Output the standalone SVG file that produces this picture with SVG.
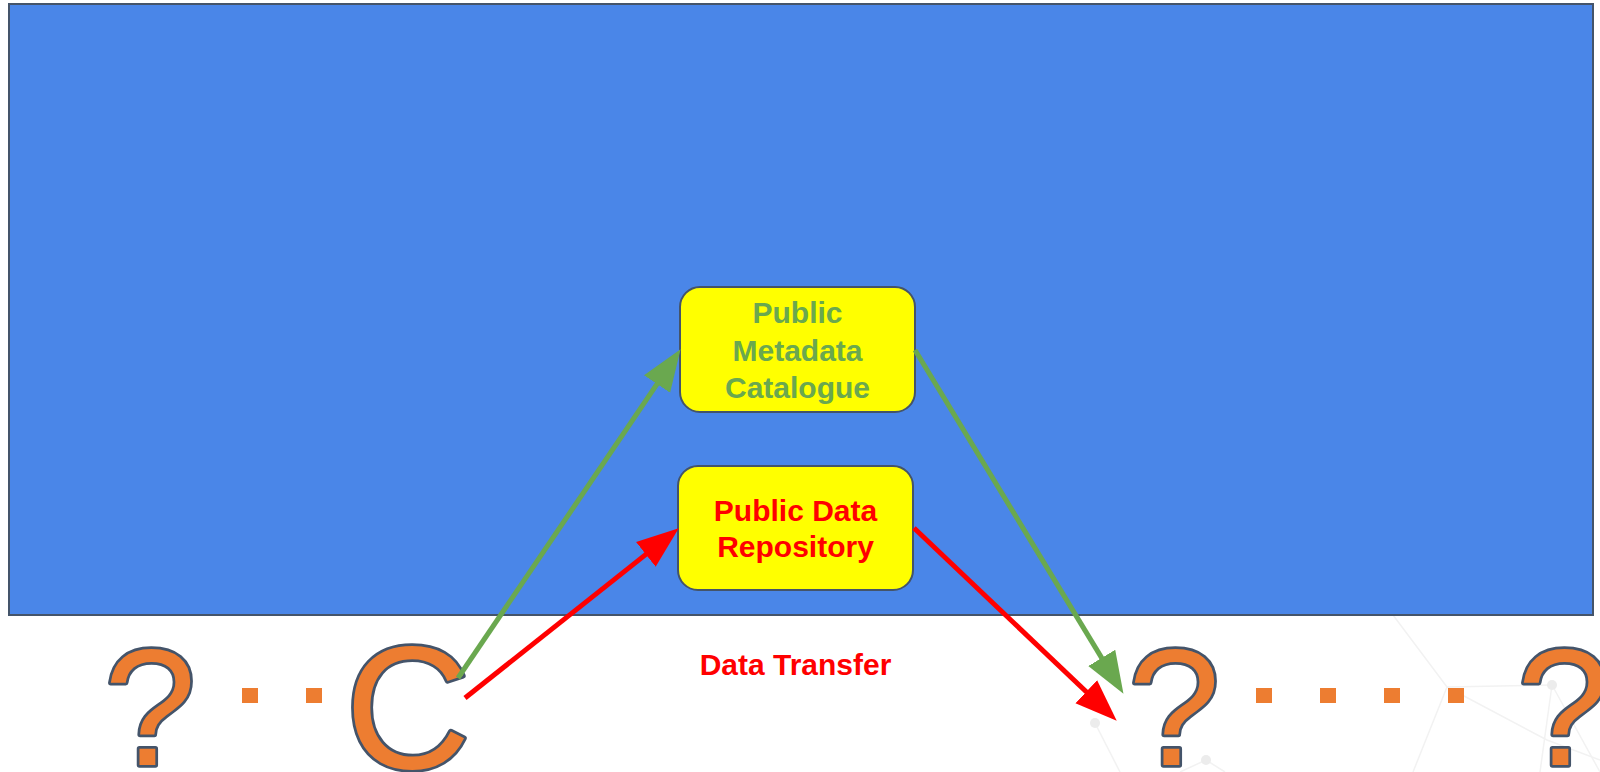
<svg xmlns="http://www.w3.org/2000/svg" width="1600" height="772" viewBox="0 0 1600 772">
<style>
.glyph{font-family:"Liberation Sans",Arial,sans-serif;fill:#ed7d31;stroke:#44546a;stroke-width:5.5;paint-order:stroke;stroke-linejoin:round}
.box{fill:#ffff00;stroke:#44546a;stroke-width:2}
.lbl{font-family:"Liberation Sans",Arial,sans-serif;font-weight:bold;font-size:30px;text-anchor:middle}
.net{stroke:#f2f2f2;stroke-width:1.5;fill:none}
.netdot{fill:#ececec}
.dots{stroke:#ed7d31;stroke-width:15;stroke-dasharray:16 48;fill:none}
</style>
<defs>
<marker id="hg" markerUnits="userSpaceOnUse" markerWidth="42" markerHeight="32" viewBox="0 0 40 30" refX="20" refY="15" orient="auto">
<path d="M0,0 L40,15 L0,30 z" fill="#6aa84f"/>
</marker>
<marker id="hr" markerUnits="userSpaceOnUse" markerWidth="42" markerHeight="32" viewBox="0 0 40 30" refX="20" refY="15" orient="auto">
<path d="M0,0 L40,15 L0,30 z" fill="#ff0000"/>
</marker>
</defs>
<rect width="1600" height="772" fill="#ffffff"/>
<g id="background-network">
<polyline class="net" points="1393,615 1447,687 1552,685"/>
<polyline class="net" points="1447,687 1547,740 1600,760"/>
<line class="net" x1="1447" y1="687" x2="1413" y2="772"/>
<line class="net" x1="1552" y1="685" x2="1600" y2="772"/>
<line class="net" x1="1552" y1="685" x2="1540" y2="772"/>
<line class="net" x1="1095" y1="723" x2="1120" y2="772"/>
<line class="net" x1="1206" y1="760" x2="1225" y2="772"/>
<line class="net" x1="1206" y1="760" x2="1180" y2="772"/>
<circle class="netdot" cx="1552" cy="685" r="5"/>
<circle class="netdot" cx="1095" cy="723" r="5"/>
<circle class="netdot" cx="1206" cy="760" r="5"/>
</g>
<g id="panel">
<rect x="9" y="4" width="1584" height="611" fill="#4a86e8" stroke="#44546a" stroke-width="2"/>
</g>
<g id="node-catalogue">
<rect class="box" x="680" y="287" width="235" height="125" rx="20" ry="20"/>
<text class="lbl" fill="#6aa84f" x="797.5" y="323">Public</text>
<text class="lbl" fill="#6aa84f" x="797.5" y="361">Metadata</text>
<text class="lbl" fill="#6aa84f" x="797.5" y="398">Catalogue</text>
</g>
<g id="node-repository">
<rect class="box" x="678" y="466" width="235" height="124" rx="20" ry="20"/>
<text class="lbl" fill="#ff0000" x="795.5" y="521">Public Data</text>
<text class="lbl" fill="#ff0000" x="795.5" y="557">Repository</text>
</g>
<g id="node-q1"><text class="glyph" x="104" y="765" font-size="166">?</text></g>
<g id="node-c"><text class="glyph" x="345" y="768" font-size="174">C</text></g>
<g id="node-q2"><text class="glyph" x="1128" y="765" font-size="166">?</text></g>
<g id="node-q3"><text class="glyph" x="1517" y="765" font-size="166">?</text></g>
<g id="label-transfer">
<text class="lbl" fill="#ff0000" x="795.5" y="675">Data Transfer</text>
</g>
<g id="connectors">
<line class="dots" x1="242" y1="695.5" x2="322" y2="695.5"/>
<line class="dots" x1="1256" y1="695.5" x2="1464" y2="695.5"/>
<line x1="458" y1="678" x2="668.8" y2="366.6" stroke="#6aa84f" stroke-width="5" marker-end="url(#hg)"/>
<line x1="915" y1="350" x2="1112.6" y2="675.9" stroke="#6aa84f" stroke-width="5" marker-end="url(#hg)"/>
<line x1="465" y1="698" x2="662.3" y2="541.4" stroke="#ff0000" stroke-width="5" marker-end="url(#hr)"/>
<line x1="914" y1="528" x2="1101.5" y2="706.2" stroke="#ff0000" stroke-width="5" marker-end="url(#hr)"/>
</g>
</svg>
